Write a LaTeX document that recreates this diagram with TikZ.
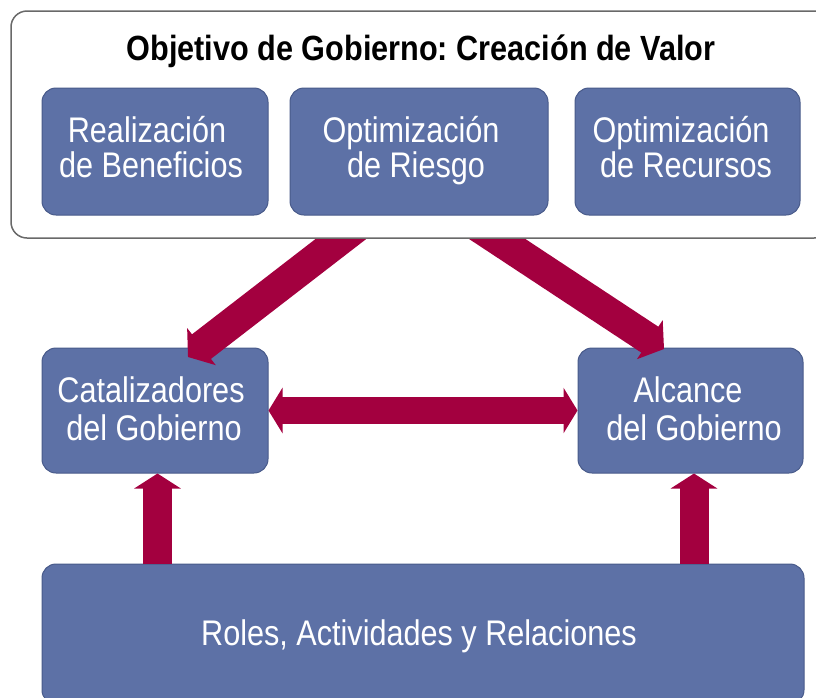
\documentclass[tikz,border=0pt]{standalone}
\usepackage{fontspec}
\setmainfont{Liberation Sans}[FakeStretch=0.86]
\newfontfamily\titlefont{Liberation Sans}[FakeStretch=0.875]
\frenchspacing
\usetikzlibrary{arrows.meta}
\definecolor{boxblue}{RGB}{93,113,166}
\definecolor{boxedge}{RGB}{72,90,138}
\definecolor{arrowred}{RGB}{163,0,63}
\definecolor{framegray}{RGB}{105,105,105}
\begin{document}
\begin{tikzpicture}[x=1pt,y=-1pt,
  bluebox/.style={draw=boxedge, line width=1pt, fill=boxblue, rounded corners=14pt, inner sep=0pt},
  lbl/.style={anchor=base, text=white, inner sep=0pt, font=\fontsize{35.6}{39}\selectfont},
  ttl/.style={anchor=base, text=black, inner sep=0pt, font=\titlefont\bfseries\fontsize{35}{40}\selectfont},
  fat/.style={draw=arrowred, line width=29pt, -{Triangle[length=15pt,width=46pt]}},
  diag/.style={draw=arrowred, line width=31pt, -{Triangle[length=17pt,width=46pt]}},
  dbl/.style={draw=arrowred, line width=27pt, {Triangle[length=14pt,width=45pt]}-{Triangle[length=14pt,width=45pt]}}
]
\useasboundingbox (0,0) rectangle (816,697);
\clip (0,0) rectangle (816,697);

% lower boxes
\node[bluebox, minimum width=226pt, minimum height=125pt] (cat) at (155,410.5) {};
\node[bluebox, minimum width=225pt, minimum height=125pt] (alc) at (690.5,410.5) {};
\node[bluebox, minimum width=762pt, minimum height=140pt] (roles) at (423,634) {};

\node[lbl] (cat1) at (151,402) {Catalizadores};
\node[lbl] (cat2) at (154,440) {del Gobierno};
\node[lbl] (alc1) at (688,402) {Alcance};
\node[lbl] (alc2) at (694,440) {del Gobierno};
\node[lbl] (rol1) at (419,645) {Roles, Actividades y Relaciones};

% arrows
\coordinate (d1s) at (359,225);
\coordinate (d1t) at (188,357);
\coordinate (d2s) at (476,225);
\coordinate (d2t) at (664,349);
\draw[diag] (d1s) -- (d1t);
\draw[diag] (d2s) -- (d2t);
\draw[dbl] (cat.east) -- (alc.west);
\draw[fat] (roles.north -| 157.5,0) -- (cat.south -| 157.5,0);
\draw[fat] (roles.north -| 694,0) -- (alc.south -| 694,0);

% upper frame
\node[draw=framegray, line width=1.5pt, fill=white, rounded corners=16pt, minimum width=819pt, minimum height=227pt, inner sep=0pt] (goal) at (420.5,124.5) {};
\node[ttl] (title) at (421,60) {Objetivo de Gobierno: Creación de Valor};

\node[bluebox, minimum width=226pt, minimum height=127pt] (rb) at (155,151.5) {};
\node[bluebox, minimum width=258pt, minimum height=127pt] (ri) at (419,151.5) {};
\node[bluebox, minimum width=225pt, minimum height=127pt] (rc) at (687.5,151.5) {};

\node[lbl] (rb1) at (147,142) {Realización};
\node[lbl] (rb2) at (151,177) {de Beneficios};
\node[lbl] (ri1) at (411,142) {Optimización};
\node[lbl] (ri2) at (416,177) {de Riesgo};
\node[lbl] (rc1) at (681,142) {Optimización};
\node[lbl] (rc2) at (686,177) {de Recursos};
\end{tikzpicture}
\end{document}
